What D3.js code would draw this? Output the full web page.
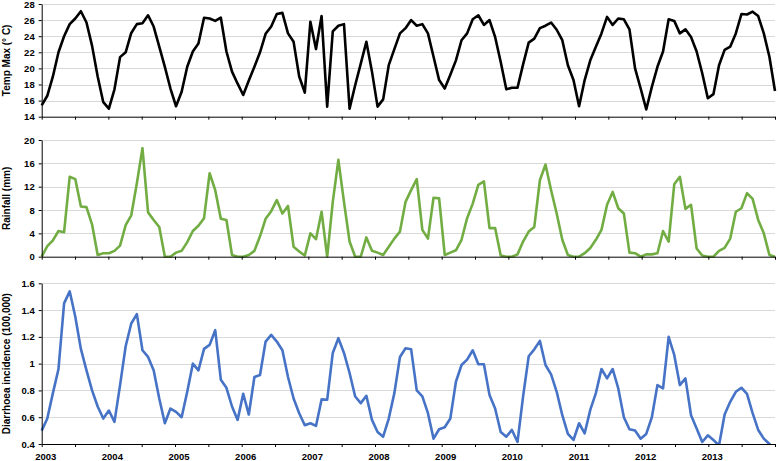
<!DOCTYPE html>
<html>
<head>
<meta charset="utf-8">
<script src="https://cdn.jsdelivr.net/npm/d3@7"></script>
<style>
  body { margin: 0; background: #fff; }
  text { font-family: "Liberation Sans", Arial, sans-serif; font-weight: bold; fill: #000; }
  .grid line { stroke: #d9d9d9; stroke-width: 1; }
  .axis path, .axis line { stroke: #000; stroke-width: 1; }
</style>
</head>
<body>
<div id="chart"></div>
<script>
// monthly values, Jan 2003 .. Dec 2013
const months = d3.timeMonth.range(new Date(2003, 0, 1), new Date(2014, 0, 1));
const yearLabels = ["2003","2004","2005","2006","2007","2008","2009","2010","2011","2012","2013"];

const tempMax = [
  15.4, 16.6, 19.0, 22.0, 24.0, 25.5, 26.2, 27.1, 25.7, 22.8, 19.0, 15.8,
  15.0, 17.4, 21.4, 22.0, 24.4, 25.5, 25.6, 26.6, 25.2, 22.7, 20.2, 17.5,
  15.3, 17.1, 20.2, 22.1, 23.1, 26.3, 26.2, 25.9, 26.3, 22.1, 19.6, 18.1,
  16.7, 18.5, 20.2, 22.0, 24.3, 25.2, 26.75, 26.9, 24.35, 23.3, 19.0, 17.0,
  25.8, 22.4, 26.5, 15.25, 24.6, 25.3, 25.5, 15.0, 17.9, 20.6, 23.3, 19.6,
  15.25, 16.15, 20.4, 22.4, 24.35, 25.0, 26.0, 25.3, 25.5, 24.35, 21.45, 18.55,
  17.5, 19.2, 21.0, 23.5, 24.35, 26.1, 26.6, 25.4, 26.0, 23.9, 20.8, 17.4,
  17.6, 17.6, 20.5, 23.2, 23.7, 25.0, 25.3, 25.7, 24.8, 23.5, 20.4, 18.55,
  15.3, 18.55, 21.0, 22.7, 24.35, 26.4, 25.4, 26.2, 26.1, 24.85, 20.0, 17.5,
  14.9, 17.7, 20.2, 22.1, 26.1, 25.9, 24.35, 24.85, 23.9, 22.1, 19.4, 16.3,
  16.8, 20.4, 22.3, 22.7, 24.35, 26.75, 26.7, 27.05, 26.5, 24.35, 21.45, 17.2
];

const rainfall = [
  0, 1.8, 2.8, 4.4, 4.2, 13.7, 13.3, 8.6, 8.5, 5.5, 0.3, 0.6,
  0.6, 1.0, 1.9, 5.4, 7.1, 12.6, 18.6, 7.6, 6.3, 5.1, 0, 0,
  0.7, 1.0, 2.5, 4.4, 5.3, 6.6, 14.3, 11.4, 6.5, 6.3, 0.3, 0,
  0, 0.3, 1.0, 3.5, 6.5, 7.8, 9.7, 7.4, 8.7, 1.7, 0.9, 0.2,
  4.0, 3.0, 7.7, 0, 9.4, 16.6, 9.4, 2.6, 0, 0, 3.3, 1.0,
  0.7, 0.3, 1.7, 3.1, 4.3, 9.4, 11.4, 13.3, 4.6, 3.1, 10.1, 10.0,
  0.3, 0.7, 1.1, 2.9, 6.6, 9.1, 12.3, 12.9, 4.9, 4.9, 0.2, 0,
  0, 0.4, 2.6, 4.3, 5.1, 13.1, 15.8, 11.4, 7.4, 2.9, 0.3, 0,
  0, 0.6, 1.5, 2.9, 4.6, 8.9, 11.1, 8.3, 7.4, 0.7, 0.6, 0,
  0.4, 0.4, 0.6, 4.4, 2.6, 12.4, 13.7, 8.2, 8.9, 1.4, 0.2, 0,
  0, 1.0, 1.5, 3.1, 7.7, 8.3, 10.9, 9.9, 6.3, 4.0, 0.3, 0
];

const diarrhoea = [
  0.50, 0.59, 0.78, 0.96, 1.45, 1.54, 1.35, 1.11, 0.95, 0.80, 0.68, 0.59,
  0.65, 0.565, 0.84, 1.13, 1.30, 1.37, 1.10, 1.05, 0.95, 0.74, 0.555, 0.665,
  0.64, 0.60, 0.79, 1.00, 0.95, 1.11, 1.14, 1.25, 0.88, 0.82, 0.68, 0.58,
  0.775, 0.62, 0.90, 0.915, 1.165, 1.215, 1.165, 1.10, 0.90, 0.74, 0.63, 0.54,
  0.555, 0.535, 0.733, 0.73, 1.08, 1.19, 1.08, 0.93, 0.755, 0.705, 0.76, 0.58,
  0.49, 0.455, 0.59, 0.78, 1.05, 1.115, 1.107, 0.80, 0.755, 0.63, 0.44, 0.51,
  0.525, 0.59, 0.865, 0.99, 1.03, 1.10, 0.995, 0.995, 0.765, 0.665, 0.49, 0.455,
  0.505, 0.415, 0.755, 1.055, 1.107, 1.17, 0.99, 0.92, 0.79, 0.615, 0.475, 0.43,
  0.555, 0.48, 0.655, 0.78, 0.96, 0.89, 0.96, 0.815, 0.60, 0.51, 0.50, 0.44,
  0.475, 0.60, 0.84, 0.815, 1.20, 1.065, 0.84, 0.89, 0.615, 0.515, 0.415, 0.465,
  0.43, 0.39, 0.62, 0.715, 0.79, 0.82, 0.775, 0.63, 0.505, 0.44, 0.40, 0.36
];

const tempTicks = [14, 16, 18, 20, 22, 24, 26, 28];
const rainTicks = [0, 4, 8, 12, 16, 20];
const diarrTicks = [0.4, 0.6, 0.8, 1, 1.2, 1.4, 1.6];

const width = 778, height = 461,
      left = 41.7, right = 775;

const svg = d3.select("#chart")
    .append("svg")
        .attr("width", width)
        .attr("height", height);

// data points sit on a category scale, the half-year ticks on their own scale
const x = d3.scalePoint()
    .domain(months)
    .range([left, right]);

const xHalf = d3.scaleLinear()
    .domain([0, 22])
    .range([left, right]);

function drawPanel(values, ticks, top, bottom, color, title, id){
    const y = d3.scaleLinear()
        .domain([ticks[0], ticks[ticks.length - 1]])
        .range([bottom, top]);

    const g = svg.append("g").classed("panel", true);

    g.append("g")
        .classed("grid", true)
        .selectAll("line")
        .data(ticks.slice(1))
        .enter().append("line")
            .attr("x1", left)
            .attr("x2", right)
            .attr("y1", d => Math.round(y(d)) + 0.5)
            .attr("y2", d => Math.round(y(d)) + 0.5);

    g.append("clipPath")
        .attr("id", "clip-" + id)
        .append("rect")
            .attr("x", left - 5)
            .attr("y", top - 5)
            .attr("width", right - left + 10)
            .attr("height", bottom - top + 6);

    const line = d3.line()
        .x((d, i) => x(months[i]))
        .y(d => y(d));

    g.append("path")
        .datum(values)
        .attr("clip-path", `url(#clip-${id})`)
        .attr("fill", "none")
        .attr("stroke", color)
        .attr("stroke-width", 2.6)
        .attr("stroke-linejoin", "round")
        .attr("d", line);

    const yAxis = d3.axisLeft(y)
        .tickValues(ticks)
        .tickSize(3)
        .tickSizeOuter(0)
        .tickPadding(4)
        .tickFormat(d => String(+d.toFixed(1)));

    g.append("g")
        .classed("axis", true)
        .attr("transform", `translate(${left},0)`)
        .call(yAxis)
        .selectAll("text")
            .style("font-size", "9.5px");

    const xAxis = d3.axisBottom(xHalf)
        .tickValues(d3.range(23))
        .tickSize(3)
        .tickSizeOuter(0)
        .tickFormat("");

    g.append("g")
        .classed("axis", true)
        .attr("transform", `translate(0,${bottom})`)
        .call(xAxis);

    g.append("text")
        .attr("transform", `translate(10,${(top + bottom) / 2}) rotate(-90)`)
        .attr("text-anchor", "middle")
        .style("font-size", "10px")
        .text(title);
}

drawPanel(tempMax, tempTicks, 4, 116.7, "#000000", "Temp Max (° C)", "t");
drawPanel(rainfall, rainTicks, 140, 256.7, "#72ad44", "Rainfall (mm)", "r");
drawPanel(diarrhoea, diarrTicks, 283.3, 444, "#4673c6", "Diarrhoea incidence (100,000)", "d");

svg.append("g")
    .classed("year-labels", true)
    .selectAll("text")
    .data(yearLabels)
    .enter().append("text")
        .attr("x", (d, i) => xHalf(i * 2) + 4)
        .attr("y", 460)
        .attr("text-anchor", "middle")
        .style("font-size", "9.5px")
        .text(d => d);
</script>
</body>
</html>
